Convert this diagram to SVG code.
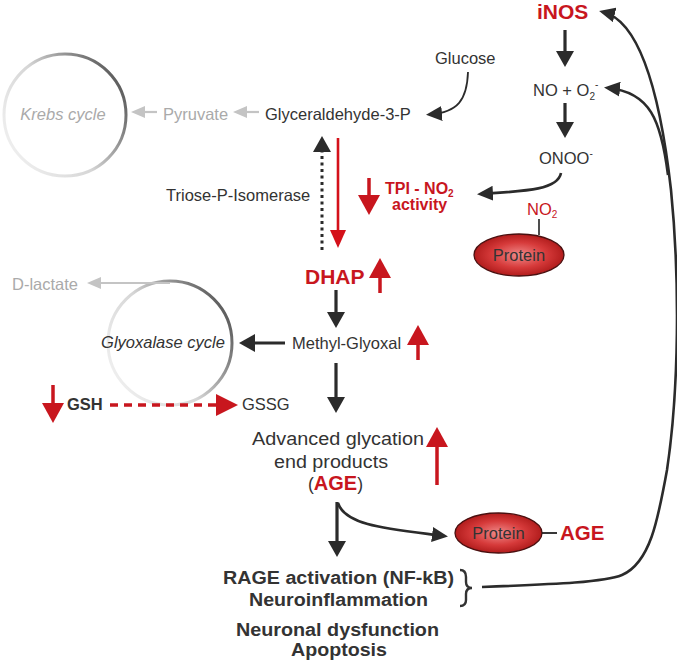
<svg xmlns="http://www.w3.org/2000/svg" width="677" height="662" viewBox="0 0 677 662">
<defs>
<style>
text{font-family:"Liberation Sans",Arial,sans-serif;font-size:16.5px;fill:#333}
.gray{fill:#aaa}
.red{fill:#c8161e}
.b{font-weight:bold}
.it{font-style:italic}
.big{font-size:17.5px}
.blk{stroke:#2b2b2b;stroke-width:3.2;fill:none}
.blkc{stroke:#2b2b2b;stroke-width:2.6;fill:none}
.gry{stroke:#c4c4c4;stroke-width:2.2;fill:none}
.rd{stroke:#c8161e;stroke-width:3.5;fill:none}
</style>
<marker id="mBlk" markerUnits="userSpaceOnUse" viewBox="0 0 16 18" markerWidth="16" markerHeight="18" refX="12" refY="9" orient="auto"><path d="M0,0 L16,9 L0,18 z" fill="#2b2b2b"/></marker>
<marker id="mBlkS" markerUnits="userSpaceOnUse" viewBox="0 0 16 15" markerWidth="16" markerHeight="15" refX="12" refY="7.5" orient="auto"><path d="M0,0 L16,7.5 L0,15 z" fill="#2b2b2b"/></marker>
<marker id="mGray" markerUnits="userSpaceOnUse" viewBox="0 0 14 12" markerWidth="14" markerHeight="12" refX="10" refY="6" orient="auto"><path d="M0,0 L14,6 L0,12 z" fill="#c4c4c4"/></marker>
<marker id="mRed" markerUnits="userSpaceOnUse" viewBox="0 0 18 16" markerWidth="18" markerHeight="16" refX="14" refY="8" orient="auto"><path d="M0,0 L18,8 L0,16 z" fill="#d4111a"/></marker>
<marker id="mRedBig" markerUnits="userSpaceOnUse" viewBox="0 0 20 22" markerWidth="20" markerHeight="22" refX="15" refY="11" orient="auto"><path d="M0,0 L20,11 L0,22 z" fill="#c8161e"/></marker>
<linearGradient id="gCyc" x1="0" y1="0.9" x2="1" y2="0.3">
<stop offset="0" stop-color="#f4f4f4"/><stop offset="0.5" stop-color="#d6d6d6"/><stop offset="1" stop-color="#5a5a5a"/>
</linearGradient>
<radialGradient id="gProt" cx="0.5" cy="0.5" r="0.55">
<stop offset="0" stop-color="#f08a8a"/><stop offset="0.55" stop-color="#d63a3a"/><stop offset="1" stop-color="#a81515"/>
</radialGradient>
</defs>

<g id="krebs">
<circle cx="65" cy="115" r="61" fill="none" stroke="url(#gCyc)" stroke-width="3"/>
<text x="63" y="120" text-anchor="middle" class="gray it">Krebs cycle</text>
</g>
<g id="pyruvate"><text x="163" y="120" class="gray">Pyruvate</text></g>
<g id="g3p"><text x="265" y="120">Glyceraldehyde-3-P</text></g>
<g id="glucose"><text x="435" y="64">Glucose</text></g>
<g id="inos"><text x="537" y="19" class="red b" style="font-size:21px">iNOS</text></g>
<g id="no"><text x="533" y="96">NO + O<tspan dy="4" style="font-size:10px">2</tspan><tspan dy="-12" style="font-size:10px">-</tspan></text></g>
<g id="onoo"><text x="539" y="163.5">ONOO<tspan dy="-7" style="font-size:10px">-</tspan></text></g>
<g id="tpi">
<text x="385" y="194" class="red b" style="font-size:16px">TPI - NO<tspan dy="3" style="font-size:10px">2</tspan></text>
<text x="392" y="210" class="red b" style="font-size:16px">activity</text>
</g>
<g id="isomerase"><text x="166" y="201">Triose-P-Isomerase</text></g>
<g id="proteinNO2">
<line x1="539" y1="219" x2="539" y2="235" stroke="#222" stroke-width="1.6"/>
<ellipse cx="519" cy="255" rx="45" ry="21" fill="url(#gProt)" stroke="#4a1010" stroke-width="1.3"/>
<text x="519" y="261" text-anchor="middle">Protein</text>
<text x="527" y="215" class="red">NO<tspan dy="3" style="font-size:10px">2</tspan></text>
</g>
<g id="dhap"><text x="305" y="283.5" class="red b" style="font-size:21px">DHAP</text></g>
<g id="mg"><text x="292" y="349">Methyl-Glyoxal</text></g>
<g id="glyoxalase">
<circle cx="170" cy="343" r="62" fill="none" stroke="url(#gCyc)" stroke-width="3"/>
<text x="163" y="348" text-anchor="middle" class="it">Glyoxalase cycle</text>
</g>
<g id="dlactate"><text x="12" y="290" class="gray">D-lactate</text></g>
<g id="gsh"><text x="67" y="410" class="b">GSH</text></g>
<g id="gssg"><text x="242" y="410">GSSG</text></g>
<g id="age">
<text x="252" y="445" class="big" textLength="172" lengthAdjust="spacingAndGlyphs">Advanced glycation</text>
<text x="274" y="467.5" class="big" textLength="114" lengthAdjust="spacingAndGlyphs">end products</text>
<text x="308" y="490" class="big">(<tspan class="red b" style="font-size:20px">AGE</tspan>)</text>
</g>
<g id="proteinAGE">
<ellipse cx="498.5" cy="533" rx="43.5" ry="20" fill="url(#gProt)" stroke="#4a1010" stroke-width="1.3"/>
<text x="498.5" y="539" text-anchor="middle">Protein</text>
<line x1="542" y1="533" x2="557" y2="533" stroke="#222" stroke-width="1.8"/>
<text x="560" y="540" class="red b" style="font-size:20.5px">AGE</text>
</g>
<g id="rage">
<text x="223" y="584" class="b big" textLength="231" lengthAdjust="spacingAndGlyphs">RAGE activation (NF-kB)</text>
<text x="249" y="606" class="b big" textLength="179" lengthAdjust="spacingAndGlyphs">Neuroinflammation</text>
<path d="M460,570 Q466,570 466,577 L466,582 Q466,588 472,588 Q466,588 466,594 L466,600 Q466,606 460,606" fill="none" stroke="#333" stroke-width="2.4"/>
</g>
<g id="outcome">
<text x="236" y="636" class="b big" textLength="203" lengthAdjust="spacingAndGlyphs">Neuronal dysfunction</text>
<text x="291" y="656" class="b big" textLength="96" lengthAdjust="spacingAndGlyphs">Apoptosis</text>
</g>

<g id="connectors">
<line x1="157" y1="112" x2="135" y2="112" class="gry" marker-end="url(#mGray)"/>
<line x1="259" y1="112" x2="237" y2="112" class="gry" marker-end="url(#mGray)"/>
<line x1="170" y1="283" x2="91" y2="283" class="gry" marker-end="url(#mGray)"/>
<path d="M468,72 C467,100 458,112 430,114.5" stroke="#2b2b2b" stroke-width="1.8" fill="none" marker-end="url(#mBlkS)"/>
<line x1="565" y1="30" x2="565" y2="63" class="blk" marker-end="url(#mBlk)"/>
<line x1="565" y1="103" x2="565" y2="134" class="blk" marker-end="url(#mBlk)"/>
<path d="M561,173 C558,189 530,191 481,194" class="blkc" marker-end="url(#mBlkS)"/>
<line x1="338" y1="138" x2="338" y2="244" stroke="#d4111a" stroke-width="2.6" marker-end="url(#mRed)"/>
<line x1="322" y1="250" x2="322" y2="140" stroke="#2b2b2b" stroke-width="3" stroke-dasharray="3,3.5" marker-end="url(#mBlk)"/>
<line x1="369" y1="178" x2="369" y2="210" class="rd" marker-end="url(#mRedBig)"/>
<line x1="380" y1="293" x2="380" y2="263" class="rd" marker-end="url(#mRedBig)"/>
<line x1="336" y1="290" x2="336" y2="324" class="blk" marker-end="url(#mBlk)"/>
<line x1="418" y1="360" x2="418" y2="330" class="rd" marker-end="url(#mRedBig)"/>
<line x1="285" y1="343" x2="243" y2="343" class="blk" marker-end="url(#mBlk)"/>
<line x1="336" y1="363" x2="336" y2="409" class="blk" marker-end="url(#mBlk)"/>
<line x1="53" y1="385" x2="53" y2="418" class="rd" marker-end="url(#mRedBig)"/>
<line x1="110" y1="405" x2="218" y2="405" stroke="#c8161e" stroke-width="3.5" stroke-dasharray="8,6"/>
<path d="M216,394 L238,405 L216,416 z" fill="#c8161e"/>
<line x1="437" y1="485" x2="437" y2="432" class="rd" marker-end="url(#mRedBig)"/>
<line x1="337" y1="502" x2="337" y2="553" class="blk" marker-end="url(#mBlk)"/>
<path d="M338,503 C345,526 390,529 444,536" class="blkc" marker-end="url(#mBlkS)"/>
<path d="M482,587 C560,584 605,582 622,575 C650,563 658,520 667,470 C679,390 680,280 671,190 C662,110 644,22 603,12" class="blkc" marker-end="url(#mBlkS)"/>
<path d="M668,175 C661,120 650,92 608,88" class="blkc" marker-end="url(#mBlkS)"/>
</g>
</svg>
